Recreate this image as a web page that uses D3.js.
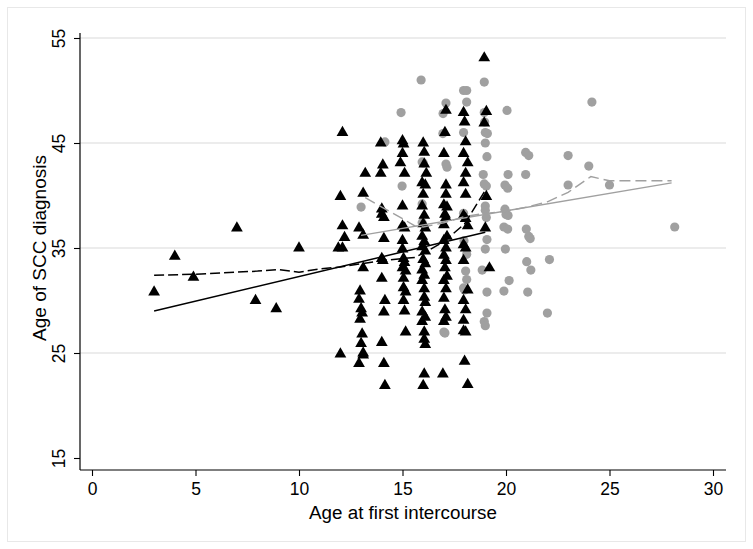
<!DOCTYPE html>
<html>
<head>
<meta charset="utf-8">
<script src="https://cdn.jsdelivr.net/npm/d3@7"></script>
<style>
  body { margin: 0; background: #fff; }
  svg text { font-family: "Liberation Sans", Arial, sans-serif; fill: #000; }
</style>
</head>
<body>
<div id="chart"></div>
<script>
// age at first intercourse vs age of SCC diagnosis

const xTicks = [0, 5, 10, 15, 20, 25, 30];
const yTicks = [15, 25, 35, 45, 55];
const gridTicks = [25, 35, 45, 55];

// black triangles
const triPoints = [
  [3.0,30.8],[4.0,34.2],[4.9,32.2],[7.0,36.9],[7.9,30.0],[8.9,29.2],[10.0,35.0],
  [12.1,46.0],[12.0,39.9],[12.1,37.1],[12.2,36.0],[11.9,35.0],[12.1,35.0],[12.0,24.9],
  [13.1,40.2],[12.9,36.9],[13.1,36.2],[13.2,42.1],[13.1,33.1],[12.95,30.9],[12.9,30.1],[13.0,29.2],
  [13.05,28.8],[12.95,28.2],[13.05,26.8],[13.0,25.9],[13.1,25.0],[12.9,24.0],[13.1,24.8],
  [13.95,45.0],[14.05,42.9],[13.95,42.1],[14.0,38.7],[14.0,38.2],[14.1,37.9],[14.1,35.9],[14.0,34.0],
  [14.05,33.8],[14.0,32.1],[14.15,30.0],[14.1,28.9],[14.0,26.0],[14.1,24.0],[14.15,21.9],
  [15.0,45.2],[15.05,44.9],[15.0,44.0],[14.9,43.1],[15.1,42.1],[15.0,39.0],[15.0,37.1],[15.1,36.9],
  [15.0,35.7],[15.0,34.9],[15.05,34.0],[15.1,33.6],[15.0,33.1],[15.15,32.8],[15.05,32.1],[15.05,31.2],
  [15.15,30.8],[15.05,30.0],[15.1,29.0],[15.15,27.0],
  [16.0,45.0],[16.05,44.1],[16.05,43.0],[16.15,42.1],[15.95,41.2],[16.1,41.0],[16.0,40.1],[15.95,39.0],
  [16.05,38.1],[16.0,37.3],[16.1,36.9],[15.95,36.1],[16.05,35.6],[15.95,35.1],[16.1,34.7],[16.0,33.9],
  [16.1,33.5],[15.95,32.9],[16.05,32.4],[15.95,31.9],[16.05,31.1],[16.05,30.3],[16.1,29.8],[15.95,28.9],
  [16.1,28.4],[15.95,28.0],[16.05,27.0],[16.05,26.3],[16.1,25.8],[16.05,23.0],[16.0,21.9],
  [17.1,48.1],[17.05,46.0],[17.0,44.0],[17.1,41.0],[17.1,40.1],[17.0,39.1],[17.15,38.9],[17.05,38.2],
  [17.1,37.9],[17.0,37.2],[17.15,36.1],[17.0,35.7],[17.1,35.0],[17.0,34.3],[17.1,33.8],[17.05,33.1],
  [17.15,32.3],[17.0,31.9],[17.1,31.1],[17.0,30.2],[17.05,29.1],[17.1,28.4],[17.0,28.0],[16.95,23.0],
  [17.95,47.9],[18.0,47.0],[18.05,45.1],[17.95,44.0],[18.15,43.1],[18.05,42.1],[17.95,41.2],[18.05,40.1],
  [17.95,38.1],[18.05,37.8],[18.15,37.1],[17.95,35.3],[18.05,35.0],[17.95,33.8],[18.15,31.0],[17.95,30.0],
  [18.05,29.1],[17.95,28.1],[17.95,27.1],[18.05,27.0],[18.0,24.2],[18.15,22.0],
  [18.95,53.1],[19.05,48.0],[18.95,46.9],[19.05,39.9],[19.0,36.9],[19.2,33.1]
];

// grey circles
const circPoints = [
  [15.9,51.0],[18.95,50.8],[17.95,50.0],[18.1,50.0],[18.1,48.9],[17.1,48.8],[24.15,48.9],[14.93,47.9],
  [16.96,47.8],[20.05,48.1],[18.95,47.9],[18.97,47.0],[19.0,46.0],[19.1,45.9],[17.95,46.0],[16.95,45.9],
  [14.15,45.1],[19.0,45.0],[19.08,43.7],[20.95,44.1],[21.1,43.8],[23.0,43.8],[24.0,42.8],[15.95,43.2],
  [17.1,43.0],[17.15,42.7],[18.9,42.0],[20.1,42.0],[20.95,42.0],[14.98,40.9],[18.95,41.1],[19.05,40.9],
  [19.95,41.0],[20.08,40.7],[23.0,41.0],[25.0,41.0],[13.0,38.9],[15.95,39.2],[19.0,39.0],[19.95,38.7],
  [20.0,38.2],[20.1,38.1],[19.05,37.9],[19.0,38.6],[17.95,38.3],[15.95,37.4],[19.9,37.0],[20.08,36.8],
  [20.98,36.8],[21.1,36.1],[21.17,35.9],[19.08,35.8],[17.97,35.7],[19.0,34.9],[19.97,34.9],[18.1,34.4],
  [21.0,33.7],[22.1,33.9],[21.2,32.9],[18.05,32.8],[20.15,31.9],[18.1,32.0],[18.85,32.9],[19.08,30.8],
  [19.9,30.9],[21.05,30.8],[17.95,31.2],[18.0,31.0],[19.08,28.8],[22.0,28.8],[18.95,28.0],[19.0,27.6],
  [17.0,27.0],[17.05,26.9],[28.15,37.0],[16.0,43.1]
];

// fitted lines and lowess curves
const triFit = [[3, 29.0], [19, 36.5]];
const triLowess = [[3,32.4],[5,32.5],[8,32.8],[9,32.95],[10,32.7],[11,33.0],[12,33.2],[13,33.5],
  [14,33.8],[15,34.0],[15.6,34.1],[16,34.5],[17,35.6],[18,37.3],[19,40.5]];
const circFit = [[13, 36.2], [28, 41.2]];
const circLowess = [[13.2,39.8],[14,38.9],[15,37.8],[15.6,37.1],[16,37.0],[17,37.4],[18,38.0],[19,38.3],
  [20,38.5],[21,38.9],[22,39.4],[23,40.3],[24.1,41.8],[25,41.4],[28,41.4]];

const width = 753, height = 549;

const svg = d3.select('#chart').append('svg')
  .attr('width', width)
  .attr('height', height);

// outer frame
svg.append('rect')
  .attr('x', 7.5).attr('y', 7.5)
  .attr('width', 738).attr('height', 534)
  .attr('fill', '#fff')
  .attr('stroke', '#e8e8e8');

const x = d3.scaleLinear().domain([0, 30]).range([92, 713]);
const y = d3.scaleLinear().domain([15, 55]).range([458, 38]);

const plotLeft = 80, plotRight = 726, plotBottom = 470, plotTop = 33;

// gridlines
svg.append('g')
  .selectAll('line')
  .data(gridTicks)
  .enter()
  .append('line')
  .attr('x1', plotLeft).attr('x2', plotRight)
  .attr('y1', d => y(d)).attr('y2', d => y(d))
  .attr('stroke', '#e6e6e6')
  .attr('stroke-width', 1.3);

// axes
const xAxis = svg.append('g')
  .attr('transform', `translate(0,${plotBottom})`)
  .call(d3.axisBottom(x).tickValues(xTicks).tickSize(6).tickPadding(6));
xAxis.select('.domain').remove();
xAxis.append('line')
  .attr('x1', plotLeft).attr('x2', plotRight)
  .attr('stroke', '#000').attr('stroke-width', 1.2);

const yAxis = svg.append('g')
  .attr('transform', `translate(${plotLeft},0)`)
  .call(d3.axisLeft(y).tickValues(yTicks).tickSize(6));
yAxis.select('.domain').remove();
yAxis.append('line')
  .attr('y1', plotTop).attr('y2', plotBottom)
  .attr('stroke', '#000').attr('stroke-width', 1.2);

svg.selectAll('.tick line').attr('stroke', '#000').attr('stroke-width', 1.1);
xAxis.selectAll('.tick text')
  .style('font-size', '17.5px')
  .attr('dy', '0.75em');

// rotated y tick labels
yAxis.selectAll('.tick text')
  .style('font-size', '17.5px')
  .attr('text-anchor', 'middle')
  .attr('dy', 0)
  .attr('x', 0).attr('y', 0)
  .attr('transform', 'translate(-15,0) rotate(-90)');

// axis titles
svg.append('text')
  .attr('x', 403).attr('y', 519)
  .attr('text-anchor', 'middle')
  .style('font-size', '18.8px')
  .text('Age at first intercourse');

svg.append('text')
  .attr('transform', 'translate(46,248) rotate(-90)')
  .attr('text-anchor', 'middle')
  .style('font-size', '19px')
  .text('Age of SCC diagnosis');

// points
svg.append('g')
  .selectAll('circle')
  .data(circPoints)
  .enter()
  .append('circle')
  .attr('cx', d => x(d[0]))
  .attr('cy', d => y(d[1]))
  .attr('r', 4.6)
  .style('fill', '#a0a0a0');

svg.append('g')
  .selectAll('path')
  .data(triPoints)
  .enter()
  .append('path')
  .attr('d', d3.symbol().type(d3.symbolTriangle).size(60))
  .attr('transform', d => `translate(${x(d[0])},${y(d[1])})`)
  .style('fill', '#000');

// lines
const line = d3.line().x(d => x(d[0])).y(d => y(d[1]));

svg.append('path').datum(circFit)
  .attr('d', line).attr('fill', 'none')
  .attr('stroke', '#a0a0a0').attr('stroke-width', 1.4);
svg.append('path').datum(circLowess)
  .attr('d', line).attr('fill', 'none')
  .attr('stroke', '#a0a0a0').attr('stroke-width', 1.4)
  .attr('stroke-dasharray', '11,5');
svg.append('path').datum(triFit)
  .attr('d', line).attr('fill', 'none')
  .attr('stroke', '#000').attr('stroke-width', 1.5);
svg.append('path').datum(triLowess)
  .attr('d', line).attr('fill', 'none')
  .attr('stroke', '#000').attr('stroke-width', 1.5)
  .attr('stroke-dasharray', '10,4');
</script>
</body>
</html>
